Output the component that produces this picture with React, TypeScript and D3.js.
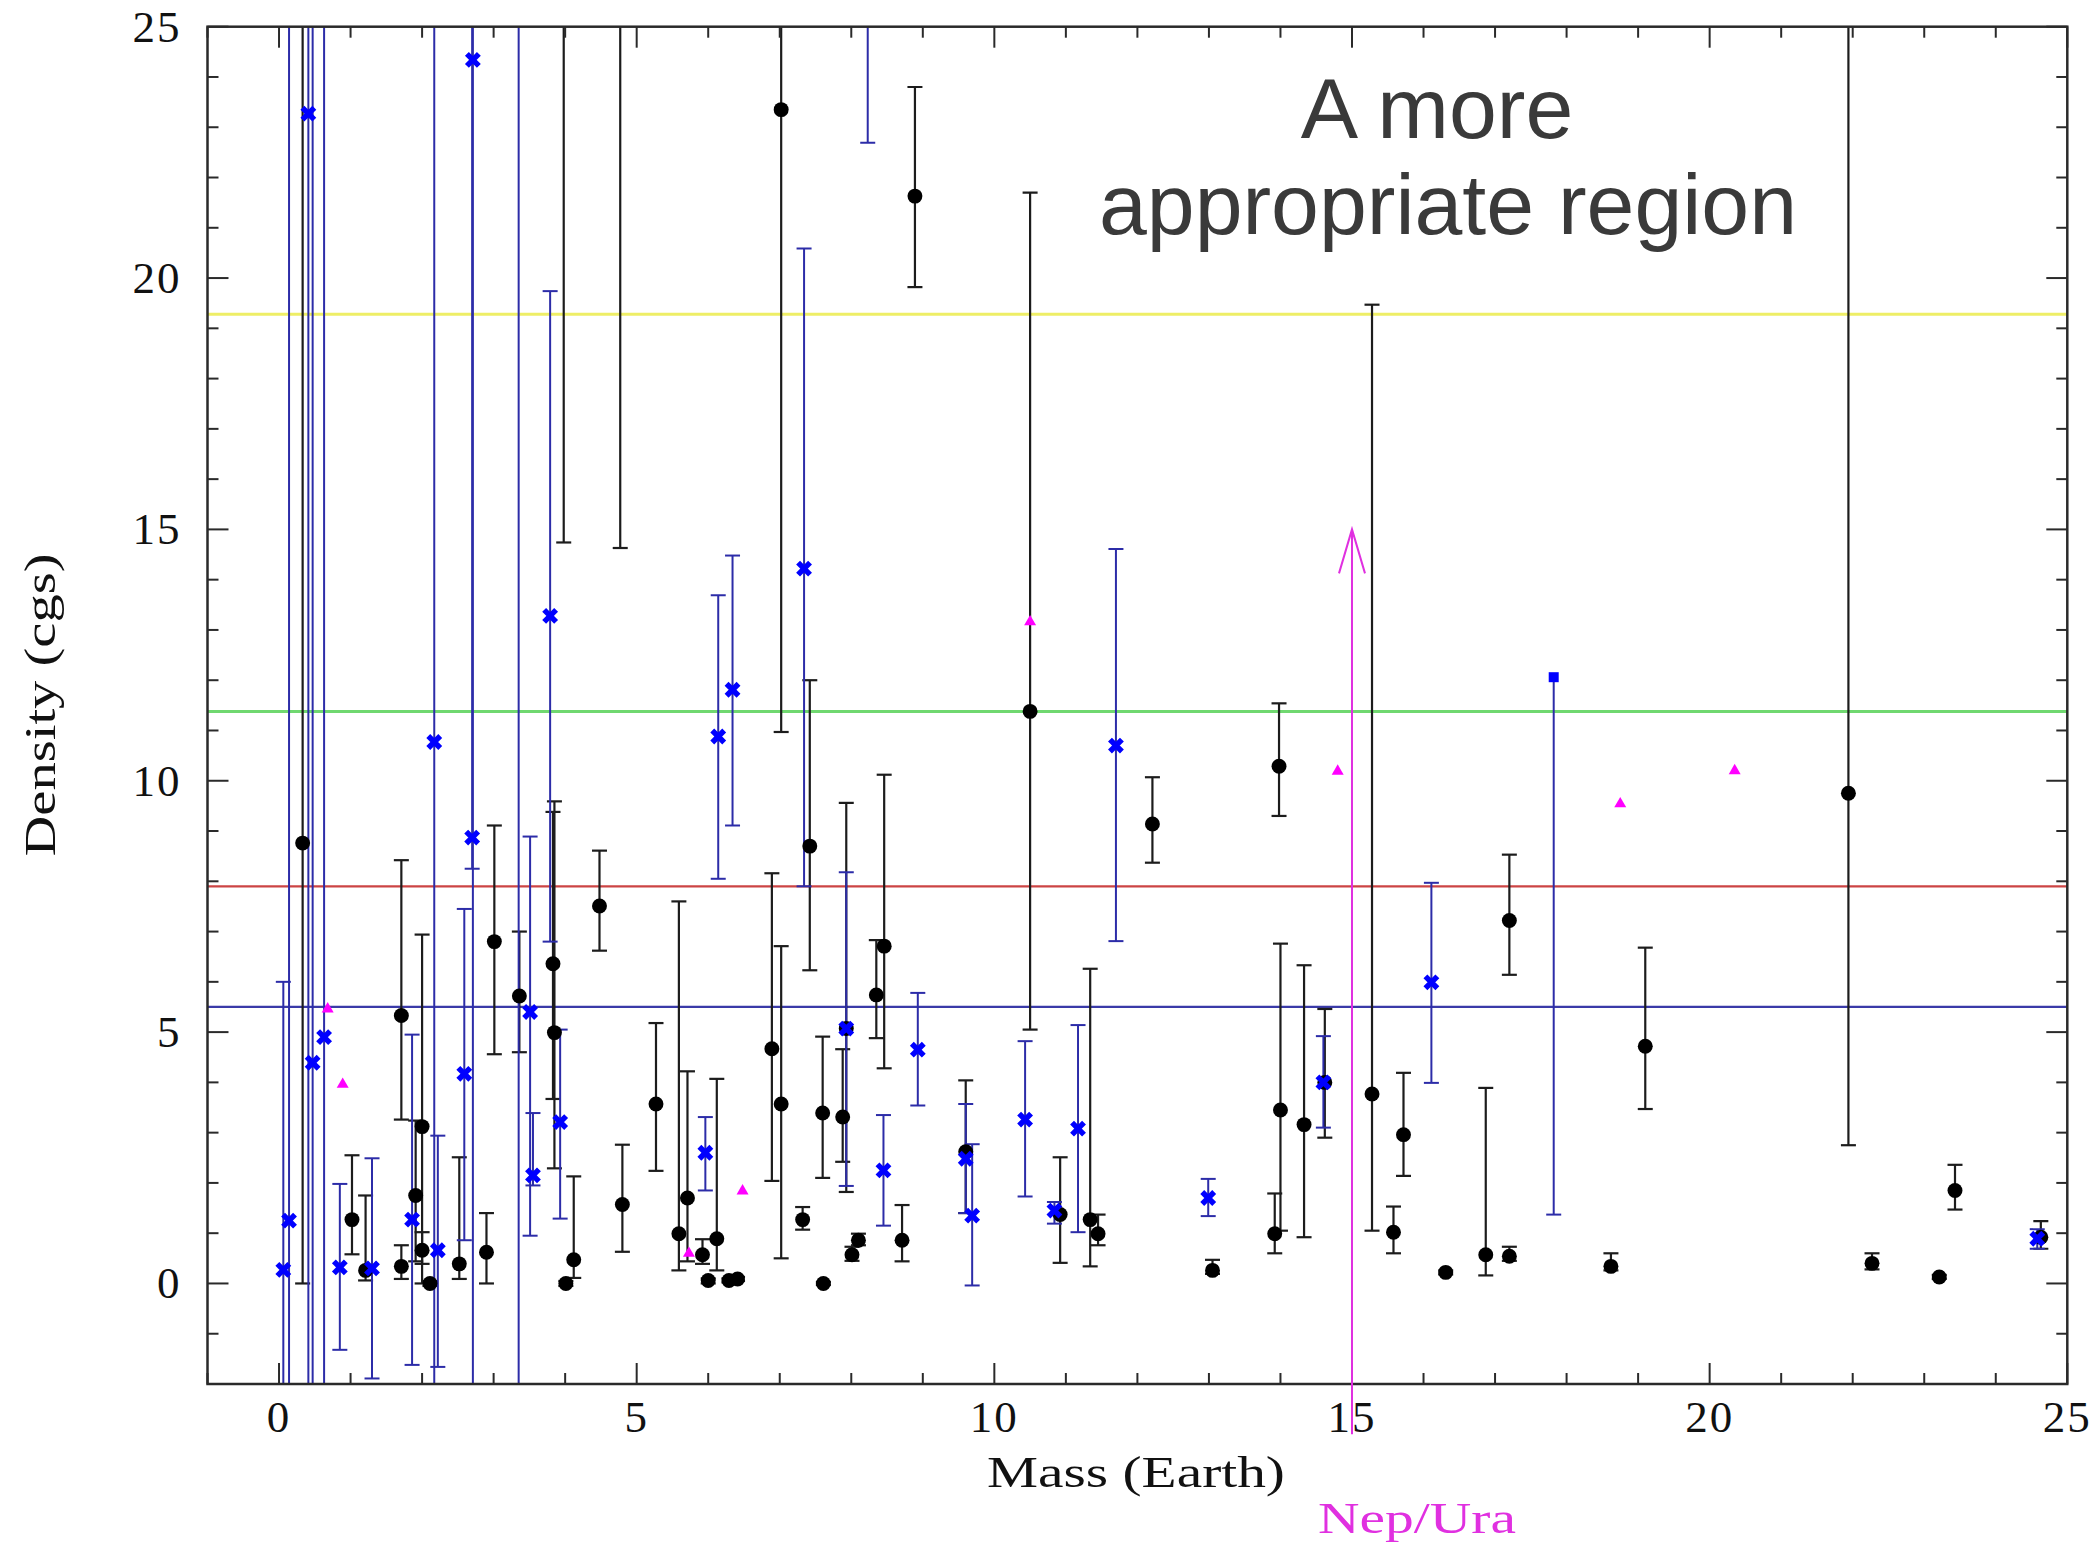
import React, { useEffect, useRef } from "react";
import * as d3 from "d3";

// canvas
const W = 2094;
const H = 1547;

// axis ranges
const xDomain = [-1, 25];
const yDomain = [-2, 25];
const xTickLabels = [0, 5, 10, 15, 20, 25];
const yTickLabels = [0, 5, 10, 15, 20, 25];

// reference densities: gold, lead, iron, earth
const refLevels = [19.28, 11.38, 7.9, 5.5];
const refColors = ["#eeee66", "#70d870", "#cc4444", "#3a3aa8"];

// black points (filled circles)
const blackMass = [0.33, 1.02, 1.21, 1.71, 1.71, 1.91, 2.0, 2.0, 2.11, 2.52, 2.9, 3.01, 3.36, 3.83, 3.85, 3.98, 4.01, 4.12, 4.48, 4.77, 4.8, 5.27, 5.59, 5.71, 5.92, 6.0, 6.12, 6.29, 6.41, 6.89, 7.02, 7.02, 7.32, 7.42, 7.6, 7.61, 7.88, 7.93, 8.01, 8.1, 8.35, 8.46, 8.71, 8.89, 9.6, 10.5, 10.92, 11.34, 11.45, 12.21, 13.05, 13.92, 13.98, 14.0, 14.33, 14.62, 15.28, 15.58, 15.72, 16.31, 16.87, 17.2, 17.2, 18.62, 19.1, 21.94, 22.27, 23.21, 23.43, 24.63];
const blackDens = [8.76, 1.27, 0.26, 5.33, 0.34, 1.75, 3.12, 0.66, 0.0, 0.39, 0.62, 6.8, 5.72, 6.36, 4.99, 30, 0.0, 0.47, 7.51, 30, 1.57, 3.57, 0.99, 1.7, 0.57, 0.06, 0.89, 0.06, 0.09, 4.67, 3.57, 23.35, 1.27, 8.7, 3.39, 0.0, 3.31, 5.07, 0.57, 0.86, 5.74, 6.71, 0.86, 21.63, 2.62, 11.38, 1.37, 1.27, 0.99, 9.14, 0.26, 0.99, 10.29, 3.45, 3.16, 4.0, 3.77, 1.02, 2.96, 0.22, 0.57, 0.54, 7.22, 0.34, 4.72, 9.75, 0.4, 0.13, 1.85, 0.92];
const blackLo = [0.0, 0.58, 0.06, 3.26, 0.09, 0.44, 0.0, 0.39, -0.05, 0.09, 0.0, 4.56, 4.6, 3.67, 2.29, 14.74, -0.05, 0.11, 6.62, 14.63, 0.63, 2.24, 0.26, 0.44, 0.39, 0.0, 0.26, 0.02, 0.05, 2.04, 0.5, 10.97, 1.07, 6.23, 2.1, -0.03, 2.42, 1.82, 0.45, 0.76, 4.88, 4.28, 0.44, 19.82, 1.4, 5.05, 0.41, 0.34, 0.76, 8.37, 0.19, 0.6, 9.3, 1.05, 0.92, 2.9, 1.05, 0.6, 2.14, 0.18, 0.16, 0.45, 6.14, 0.26, 3.47, 2.75, 0.28, 0.09, 1.47, 0.69];
const blackHi = [40, 2.55, 1.75, 8.42, 0.76, 3.24, 6.94, 1.02, 0.05, 2.51, 1.4, 9.11, 7.0, 9.38, 9.59, 45, 0.05, 2.13, 8.61, 45, 2.76, 5.18, 7.6, 4.22, 0.88, 0.1, 4.07, 0.1, 0.13, 8.16, 6.71, 40, 1.52, 12.0, 4.91, 0.03, 4.66, 9.56, 0.73, 0.99, 6.83, 10.12, 1.56, 23.8, 4.04, 21.7, 2.51, 6.26, 1.37, 10.07, 0.47, 1.79, 11.54, 6.76, 6.33, 5.46, 19.47, 1.53, 4.19, 0.26, 3.89, 0.73, 8.53, 0.6, 6.68, 40, 0.6, 0.17, 2.36, 1.24];

// blue crosses
const blueMass = [0.06, 0.14, 0.41, 0.47, 0.63, 0.85, 1.3, 1.86, 2.17, 2.22, 2.59, 2.7, 2.71, 3.35, 3.51, 3.55, 3.79, 3.93, 5.96, 6.14, 6.34, 7.34, 7.93, 8.23, 8.45, 8.93, 9.6, 9.69, 10.43, 10.84, 11.17, 11.7, 12.99, 14.6, 16.11, 24.58];
const blueDens = [0.27, 1.25, 23.27, 4.39, 4.9, 0.32, 0.3, 1.27, 10.77, 0.66, 4.17, 8.87, 24.34, 30, 5.4, 2.15, 13.28, 3.21, 2.6, 10.88, 11.81, 14.22, 5.07, 30, 2.25, 4.65, 2.48, 1.35, 3.26, 1.45, 3.08, 10.7, 1.7, 4.0, 5.99, 0.89];
const blueLo = [-10, -10, -10, -10, -10, -1.32, -1.89, -1.62, -10, -1.66, 0.86, 8.25, -10, -10, 0.95, 1.95, 6.8, 1.29, 1.85, 8.05, 9.11, 7.9, 1.94, 22.69, 1.15, 3.54, 1.4, -0.04, 1.73, 1.19, 1.02, 6.81, 1.34, 3.1, 3.99, 0.69];
const blueHi = [6.0, 40, 40, 40, 40, 1.98, 2.49, 4.95, 40, 2.94, 7.45, 40, 40, 60, 8.89, 3.39, 19.74, 5.05, 3.31, 13.69, 14.48, 20.59, 8.18, 40, 3.35, 5.78, 3.57, 2.77, 4.82, 1.62, 5.14, 14.61, 2.08, 4.92, 7.97, 1.08];

// magenta triangles
const magMass = [0.68, 0.89, 5.73, 6.48, 10.5, 14.8, 18.75, 20.35];
const magDens = [5.46, 3.96, 0.6, 1.84, 13.16, 10.19, 9.54, 10.2];

// blue square (lower error only)
const sqMass = [17.82];
const sqDens = [12.06];
const sqLo = [1.37];

// Neptune / Uranus arrow
const arrowMass = 15;
const arrowFrom = -3.0;
const arrowTo = 15.0;

const serif = "'Liberation Serif', 'DejaVu Serif', serif";
const sans = "'Liberation Sans', Arial, sans-serif";

export default function App() {
  const ref = useRef<SVGSVGElement>(null);

  useEffect(() => {
    const svg = d3.select(ref.current);
    svg.selectAll("*").remove();

    const x = d3.scaleLinear().domain(xDomain).range([207.5, 2067.3]);
    const y = d3.scaleLinear().domain(yDomain).range([1384, 26.7]);
    const [x0, x1] = x.range();
    const [y0, y1] = y.range();

    svg.append("defs").append("clipPath").attr("id", "plotClip")
      .append("rect").attr("x", x0).attr("y", y1).attr("width", x1 - x0).attr("height", y0 - y1);

    const plot = svg.append("g").attr("clip-path", "url(#plotClip)");

    // horizontal reference lines
    plot.selectAll(".ref").data(refLevels).join("line")
      .attr("x1", x0).attr("x2", x1)
      .attr("y1", (d) => y(d)).attr("y2", (d) => y(d))
      .attr("stroke", (d, i) => refColors[i])
      .attr("stroke-width", (d, i) => (i < 2 ? 3 : 2.2));

    const black = blackMass.map((m, i) => ({ m, d: blackDens[i], lo: blackLo[i], hi: blackHi[i] }));
    const blue = blueMass.map((m, i) => ({ m, d: blueDens[i], lo: blueLo[i], hi: blueHi[i] }));
    const mag = magMass.map((m, i) => ({ m, d: magDens[i] }));
    const sq = sqMass.map((m, i) => ({ m, d: sqDens[i], lo: sqLo[i], hi: null }));

    const cap = 7.5;
    const drawBars = (data, color, width) => {
      const g = plot.append("g").attr("stroke", color).attr("stroke-width", width).attr("fill", "none");
      g.selectAll(".v").data(data).join("line")
        .attr("x1", (d) => x(d.m)).attr("x2", (d) => x(d.m))
        .attr("y1", (d) => y(d.lo)).attr("y2", (d) => y(d.hi == null ? d.d : d.hi));
      g.selectAll(".lo").data(data).join("line")
        .attr("x1", (d) => x(d.m) - cap).attr("x2", (d) => x(d.m) + cap)
        .attr("y1", (d) => y(d.lo)).attr("y2", (d) => y(d.lo));
      g.selectAll(".hi").data(data.filter((d) => d.hi != null)).join("line")
        .attr("x1", (d) => x(d.m) - cap).attr("x2", (d) => x(d.m) + cap)
        .attr("y1", (d) => y(d.hi)).attr("y2", (d) => y(d.hi));
    };

    drawBars(black, "#1c1c1c", 2.2);
    drawBars(blue, "#2c2ca8", 2);
    drawBars(sq, "#2c2ca8", 2);

    // markers
    const circle = d3.symbol(d3.symbolCircle, 175)();
    const cross = d3.symbol(d3.symbolTimes, 95)();
    const tri = d3.symbol(d3.symbolTriangle, 62)();
    const square = d3.symbol(d3.symbolSquare, 100)();

    plot.selectAll(".bk").data(black).join("path")
      .attr("d", circle).attr("fill", "#000")
      .attr("transform", (d) => `translate(${x(d.m)},${y(d.d)})`);

    plot.selectAll(".bl").data(blue).join("path")
      .attr("d", cross).attr("fill", "none").attr("stroke", "#0000ff").attr("stroke-width", 5.5)
      .attr("transform", (d) => `translate(${x(d.m)},${y(d.d)})`);

    plot.selectAll(".mg").data(mag).join("path")
      .attr("d", tri).attr("fill", "#ff00ff")
      .attr("transform", (d) => `translate(${x(d.m)},${y(d.d)})`);

    plot.selectAll(".sq").data(sq).join("path")
      .attr("d", square).attr("fill", "#0000ff")
      .attr("transform", (d) => `translate(${x(d.m)},${y(d.d)})`);

    // ticks, inward on all four sides
    const axisG = svg.append("g").attr("stroke", "#2a2a2a").attr("stroke-width", 2);
    const xt = d3.range(xDomain[0], xDomain[1] + 1);
    const yt = d3.range(yDomain[0], yDomain[1] + 1);
    const len = (v) => (v % 5 === 0 ? 21 : 11);
    axisG.selectAll(".xb").data(xt).join("line")
      .attr("x1", (d) => x(d)).attr("x2", (d) => x(d)).attr("y1", y0).attr("y2", (d) => y0 - len(d));
    axisG.selectAll(".xt").data(xt).join("line")
      .attr("x1", (d) => x(d)).attr("x2", (d) => x(d)).attr("y1", y1).attr("y2", (d) => y1 + len(d));
    axisG.selectAll(".yl").data(yt).join("line")
      .attr("y1", (d) => y(d)).attr("y2", (d) => y(d)).attr("x1", x0).attr("x2", (d) => x0 + len(d));
    axisG.selectAll(".yr").data(yt).join("line")
      .attr("y1", (d) => y(d)).attr("y2", (d) => y(d)).attr("x1", x1).attr("x2", (d) => x1 - len(d));

    svg.append("rect")
      .attr("x", x0).attr("y", y1).attr("width", x1 - x0).attr("height", y0 - y1)
      .attr("fill", "none").attr("stroke", "#2a2a2a").attr("stroke-width", 2.5);

    // tick labels
    svg.selectAll(".xl").data(xTickLabels).join("text")
      .attr("x", (d) => x(d)).attr("y", y0 + 48)
      .attr("text-anchor", "middle").attr("font-family", serif).attr("font-size", 45)
      .attr("letter-spacing", 2).attr("fill", "#111").text((d) => d);

    svg.selectAll(".yl2").data(yTickLabels).join("text")
      .attr("x", x0 - 26).attr("y", (d) => y(d) + 15)
      .attr("text-anchor", "end").attr("font-family", serif).attr("font-size", 45)
      .attr("letter-spacing", 2).attr("fill", "#111").text((d) => d);

    // axis titles
    svg.append("text")
      .attr("x", 1136).attr("y", 1487).attr("text-anchor", "middle")
      .attr("font-family", serif).attr("font-size", 44).attr("fill", "#111")
      .attr("textLength", 298).attr("lengthAdjust", "spacingAndGlyphs")
      .text("Mass (Earth)");

    svg.append("text")
      .attr("transform", "translate(55,705) rotate(-90)").attr("text-anchor", "middle")
      .attr("font-family", serif).attr("font-size", 44).attr("fill", "#111")
      .attr("textLength", 303).attr("lengthAdjust", "spacingAndGlyphs")
      .text("Density (cgs)");

    // Nep/Ura arrow
    const ax = x(arrowMass);
    const ay = y(arrowTo);
    const ag = svg.append("g").attr("stroke", "#e030e0").attr("stroke-width", 2).attr("fill", "none");
    ag.append("line").attr("x1", ax).attr("x2", ax).attr("y1", y(arrowFrom)).attr("y2", ay);
    ag.append("path").attr("d", `M${ax - 13},${ay + 44}L${ax},${ay}L${ax + 13},${ay + 44}`);

    svg.append("text")
      .attr("x", 1417).attr("y", 1533).attr("text-anchor", "middle")
      .attr("font-family", serif).attr("font-size", 44).attr("fill", "#e030e0")
      .attr("textLength", 198).attr("lengthAdjust", "spacingAndGlyphs")
      .text("Nep/Ura");

    // annotation
    svg.append("text")
      .attr("x", 1437).attr("y", 138).attr("text-anchor", "middle")
      .attr("font-family", sans).attr("font-size", 86).attr("fill", "#3a3a3a")
      .text("A more");
    svg.append("text")
      .attr("x", 1448).attr("y", 234).attr("text-anchor", "middle")
      .attr("font-family", sans).attr("font-size", 86).attr("fill", "#3a3a3a")
      .text("appropriate region");
  }, []);

  return (
    <>
      <style>{`body{margin:0;background:#fff}`}</style>
      <svg ref={ref} width={W} height={H} style={{ display: "block", background: "#fff" }} />
    </>
  );
}
